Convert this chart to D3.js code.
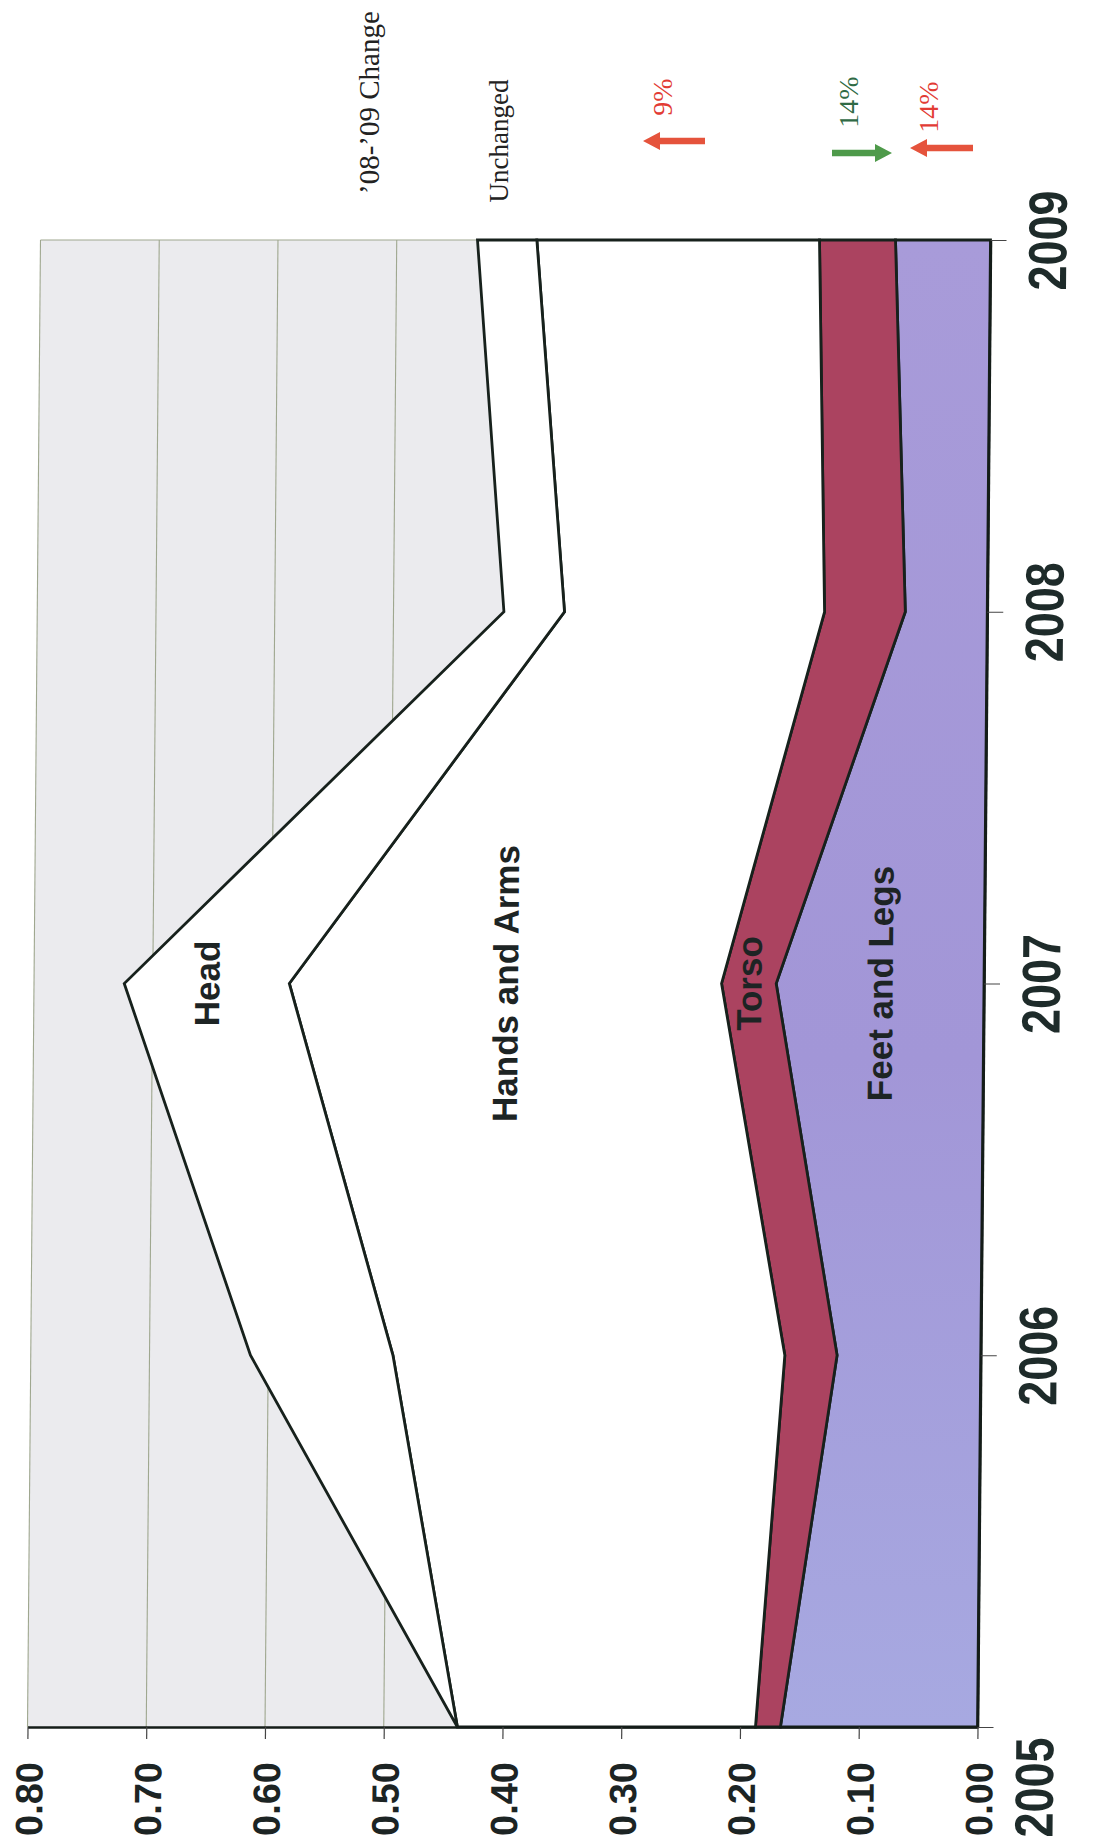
<!DOCTYPE html>
<html>
<head>
<meta charset="utf-8">
<script src="https://cdn.jsdelivr.net/npm/d3@7"></script>
<style>
  html, body { margin: 0; padding: 0; background: #ffffff; }
  svg { display: block; }
</style>
</head>
<body>
<script>
// Injury share by body region, stacked areas, drawn on its side.
const years = [2005, 2006, 2007, 2008, 2009];
const seriesNames = ["Feet and Legs", "Torso", "Hands and Arms", "Head"];
const feetLegs  = [0.166, 0.121, 0.175, 0.069, 0.080];
const torso     = [0.021, 0.044, 0.046, 0.068, 0.064];
const handsArms = [0.251, 0.330, 0.364, 0.219, 0.238];
const head      = [0.000, 0.120, 0.139, 0.051, 0.050];
const valueTicks = [0, 0.1, 0.2, 0.3, 0.4, 0.5, 0.6, 0.7, 0.8];
const changeLabels = ["Unchanged", "9%", "14%", "14%"];
const changeDirs   = ["none", "up", "down", "up"];
const changeHeader = "\u201908-\u201909 Change";

const W = 1095, H = 1845;
const plotLeft = 34, plotRight = 984, plotTop = 240, plotBottom = 1727;
const cx = (plotLeft + plotRight) / 2, cy = (plotTop + plotBottom) / 2;

const svg = d3.select("body").append("svg")
  .attr("width", W).attr("height", H)
  .attr("viewBox", `0 0 ${W} ${H}`);

const defs = svg.append("defs");
const grad = defs.append("linearGradient")
  .attr("id", "feetFill").attr("gradientUnits", "userSpaceOnUse")
  .attr("x1", 0).attr("y1", plotTop).attr("x2", 0).attr("y2", plotBottom);
grad.append("stop").attr("offset", "0%").attr("stop-color", "#a89bd9");
grad.append("stop").attr("offset", "55%").attr("stop-color", "#a296d7");
grad.append("stop").attr("offset", "100%").attr("stop-color", "#a7a9e1");

const x = d3.scaleLinear().domain([0, 0.8]).range([plotRight, plotLeft]);
const y = d3.scalePoint().domain(years).range([plotBottom, plotTop]);

const rows = years.map((yr, i) => ({
  year: yr,
  "Feet and Legs": feetLegs[i],
  "Torso": torso[i],
  "Hands and Arms": handsArms[i],
  "Head": head[i]
}));
const stacked = d3.stack().keys(seriesNames)(rows);

const fills = {
  "Feet and Legs": "url(#feetFill)",
  "Torso": "#ab4360",
  "Hands and Arms": "#ffffff",
  "Head": "#ffffff"
};

// whole chart is slightly sheared, like the printed page
const g = svg.append("g")
  .attr("transform", `translate(${cx},${cy}) skewX(-0.5) translate(${-cx},${-cy})`);

// plot background
g.append("rect")
  .attr("x", x(0.8)).attr("y", plotTop)
  .attr("width", x(0) - x(0.8)).attr("height", plotBottom - plotTop)
  .attr("fill", "#ebebee");

// gridlines
g.append("g").selectAll("line")
  .data(valueTicks.filter(v => v > 0))
  .join("line")
  .attr("x1", d => x(d)).attr("x2", d => x(d))
  .attr("y1", plotTop).attr("y2", plotBottom)
  .attr("stroke", "#9fa78f").attr("stroke-width", 1.1);
g.append("line")
  .attr("x1", x(0.8)).attr("x2", x(0)).attr("y1", plotTop).attr("y2", plotTop)
  .attr("stroke", "#9fa78f").attr("stroke-width", 1.1);

// stacked areas
const area = d3.area()
  .y(d => y(d.data.year))
  .x0(d => x(d[0]))
  .x1(d => x(d[1]));

g.append("g").selectAll("path")
  .data(stacked)
  .join("path")
  .attr("d", area)
  .attr("fill", d => fills[d.key])
  .attr("stroke", "#17211c")
  .attr("stroke-width", 2.8)
  .attr("stroke-linejoin", "miter");

// series labels, centred in each band at 2007
const labelYear = 2007;
const li = years.indexOf(labelYear);
g.append("g").selectAll("text")
  .data(stacked)
  .join("text")
  .attr("transform", d => {
    const p = d[li];
    return `translate(${x((p[0] + p[1]) / 2)},${y(labelYear)}) rotate(-90)`;
  })
  .attr("text-anchor", "middle")
  .attr("dy", "0.36em")
  .attr("font-family", "'Liberation Sans', Arial, sans-serif")
  .attr("font-weight", "bold")
  .attr("font-size", 35)
  .attr("fill", "#1d2424")
  .text(d => d.key);

// value axis along the 2005 edge
const xAxis = g.append("g")
  .attr("transform", `translate(0,${plotBottom})`)
  .call(d3.axisBottom(x).tickValues(valueTicks).tickFormat(d3.format(".2f"))
    .tickSize(12).tickSizeOuter(0));
xAxis.select(".domain").attr("stroke", "#141c18").attr("stroke-width", 2.4);
xAxis.selectAll(".tick line").attr("stroke", "#444").attr("stroke-width", 1.2);
xAxis.selectAll(".tick text")
  .attr("transform", "rotate(-90)")
  .attr("x", -35).attr("y", 15).attr("dy", 0)
  .attr("text-anchor", "end")
  .attr("font-family", "'Liberation Sans', Arial, sans-serif")
  .attr("font-weight", "bold")
  .attr("font-size", 38)
  .attr("fill", "#1c2424");

// year axis along the zero edge; the first label is pushed clear of the corner
const yAxis = g.append("g")
  .attr("transform", `translate(${plotRight},0)`)
  .call(d3.axisRight(y).tickFormat(d3.format("d")).tickSize(16).tickSizeOuter(0));
yAxis.select(".domain").attr("stroke", "#141c18").attr("stroke-width", 2.6);
yAxis.selectAll(".tick line").attr("stroke", "#444").attr("stroke-width", 1.2);
yAxis.selectAll(".tick text")
  .attr("transform", "rotate(-90)")
  .attr("x", d => d === years[0] ? -60 : 0)
  .attr("y", 76).attr("dy", 0)
  .attr("text-anchor", "middle")
  .attr("font-family", "'Liberation Sans', Arial, sans-serif")
  .attr("font-weight", "bold")
  .attr("font-size", 54)
  .attr("textLength", 100)
  .attr("lengthAdjust", "spacingAndGlyphs")
  .attr("fill", "#1e2b2a");

// 2008 to 2009 change notes above the chart
const notes = svg.append("g")
  .attr("font-family", "'Liberation Serif', 'DejaVu Serif', serif");

notes.append("text")
  .attr("transform", "translate(379,194) rotate(-90)")
  .attr("text-anchor", "start")
  .attr("font-size", 29)
  .attr("fill", "#222")
  .text(changeHeader);

const noteX = [508, 672, 858, 938];
const noteY = [141, 97, 102, 107];
const noteColor = ["#222222", "#e23b34", "#2f6a45", "#e23b34"];
notes.selectAll("text.val")
  .data(changeLabels)
  .join("text")
  .attr("class", "val")
  .attr("transform", (d, i) => `translate(${noteX[i]},${noteY[i]}) rotate(-90)`)
  .attr("text-anchor", "middle")
  .attr("font-size", (d, i) => i === 0 ? 27 : 28)
  .attr("fill", (d, i) => noteColor[i])
  .text(d => d);

// arrows: "up" points toward larger values (left), "down" toward zero (right)
const arrowSpan = [null, [643, 705, 141], [832, 892, 153], [910, 973, 148]];
const arrowColor = { up: "#e5533c", down: "#4e9a4a" };
function arrowPath(x0, x1, yc, dir) {
  const hl = 17, hw = 9, sw = 3.2;
  if (dir === "up") {
    return `M${x0},${yc} L${x0 + hl},${yc - hw} L${x0 + hl},${yc - sw} L${x1},${yc - sw}` +
           ` L${x1},${yc + sw} L${x0 + hl},${yc + sw} L${x0 + hl},${yc + hw} Z`;
  }
  return `M${x1},${yc} L${x1 - hl},${yc - hw} L${x1 - hl},${yc - sw} L${x0},${yc - sw}` +
         ` L${x0},${yc + sw} L${x1 - hl},${yc + sw} L${x1 - hl},${yc + hw} Z`;
}
notes.selectAll("path")
  .data(changeDirs.map((d, i) => ({ dir: d, span: arrowSpan[i] })).filter(d => d.dir !== "none"))
  .join("path")
  .attr("d", d => arrowPath(d.span[0], d.span[1], d.span[2], d.dir))
  .attr("fill", d => arrowColor[d.dir]);
</script>
</body>
</html>
